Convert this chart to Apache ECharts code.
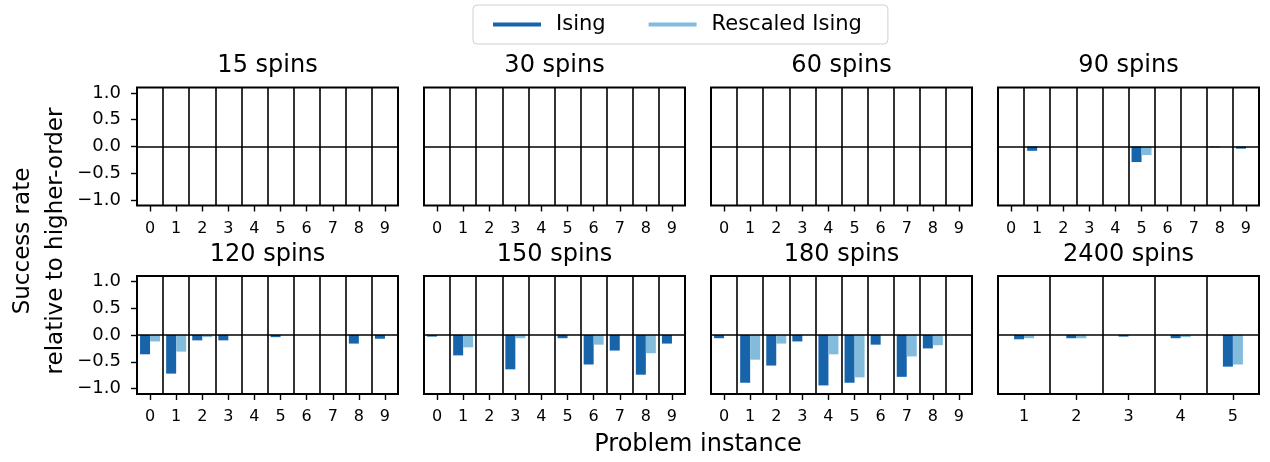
<!DOCTYPE html>
<html>
<head>
<meta charset="utf-8">
<script src="https://cdn.jsdelivr.net/npm/echarts@6/dist/echarts.min.js"></script>
<style>
  html, body { margin: 0; padding: 0; background: #fff; }
  #chart { width: 1270px; height: 462px; }
</style>
</head>
<body>
<div id="chart"></div>
<script>
// ---- data ---------------------------------------------------------------
const panelTitles = ['15 spins', '30 spins', '60 spins', '90 spins',
                     '120 spins', '150 spins', '180 spins', '2400 spins'];
const instances = ['0', '1', '2', '3', '4', '5', '6', '7', '8', '9'];
const instances2400 = ['1', '2', '3', '4', '5'];
const yTicks = [-1, -0.5, 0, 0.5, 1];

const ising15 = [0, 0, 0, 0, 0, 0, 0, 0, 0, 0];
const rescaled15 = [0, 0, 0, 0, 0, 0, 0, 0, 0, 0];
const ising30 = [0, 0, 0, 0, 0, 0, 0, 0, 0, 0];
const rescaled30 = [0, 0, 0, 0, 0, 0, 0, 0, 0, 0];
const ising60 = [0, 0, 0, 0, 0, 0, 0, 0, 0, 0];
const rescaled60 = [0, 0, 0, 0, 0, 0, 0, 0, 0, 0];
const ising90 = [0, -0.08, 0, 0, 0, -0.29, 0, 0, -0.015, -0.04];
const rescaled90 = [0, 0, 0, 0, 0, -0.16, 0, 0, 0, 0];
const ising120 = [-0.36, -0.72, -0.10, -0.10, 0, -0.04, 0, 0, -0.16, -0.07];
const rescaled120 = [-0.12, -0.31, -0.04, 0, 0, 0, 0, 0, 0, 0];
const ising150 = [-0.03, -0.38, 0, -0.64, 0, -0.06, -0.55, -0.29, -0.74, -0.16];
const rescaled150 = [0, -0.23, 0, -0.06, 0, 0, -0.18, 0, -0.34, 0];
const ising180 = [-0.06, -0.89, -0.57, -0.12, -0.94, -0.89, -0.18, -0.78, -0.25, 0];
const rescaled180 = [0, -0.46, -0.16, 0, -0.36, -0.79, 0, -0.40, -0.19, 0];
const ising2400 = [-0.08, -0.06, -0.03, -0.06, -0.59];
const rescaled2400 = [-0.06, -0.06, 0, -0.04, -0.55];

const panelCategories = [instances, instances, instances, instances,
                         instances, instances, instances, instances2400];
const isingSeries = [ising15, ising30, ising60, ising90, ising120, ising150, ising180, ising2400];
const rescaledSeries = [rescaled15, rescaled30, rescaled60, rescaled90,
                        rescaled120, rescaled150, rescaled180, rescaled2400];

// ---- layout & style -----------------------------------------------------
const FONT = 'DejaVu Sans';
const ISING_COLOR = '#1764ab';
const RESCALED_COLOR = '#82bbdb';
const COL_LEFT = [137, 424, 711, 998];
const ROW_TOP = [87.5, 276];
const PANEL_W = 261;
const PANEL_H = 118;
const TITLE_Y = [65.7, 255];

const fmtTick = v => (v < 0 ? '\u2212' : '') + Math.abs(v).toFixed(1);

const grids = [], xAxes = [], yAxes = [], series = [], graphics = [];

panelTitles.forEach((title, i) => {
  const row = Math.floor(i / 4), col = i % 4;
  const left = COL_LEFT[col], top = ROW_TOP[row];
  grids.push({
    left: left, top: top, width: PANEL_W, height: PANEL_H,
    show: true, borderColor: '#000', borderWidth: 2, backgroundColor: '#fff'
  });
  xAxes.push({
    type: 'category', gridIndex: i, data: panelCategories[i],
    axisLine: { show: false, onZero: false },
    axisTick: { show: true, alignWithLabel: true, length: 6,
                lineStyle: { color: '#000', width: 1.4 } },
    splitLine: { show: true, lineStyle: { color: '#000', width: 1.6 } },
    axisLabel: { interval: 0, fontSize: 16, color: '#000', fontFamily: FONT, margin: 15 }
  });
  yAxes.push({
    type: 'value', gridIndex: i, min: -1.1, max: 1.1,
    axisLine: { show: false, onZero: false },
    splitLine: { show: false },
    axisTick: { show: col === 0, customValues: yTicks, length: 6,
                lineStyle: { color: '#000', width: 1.4 } },
    axisLabel: { show: col === 0, customValues: yTicks, formatter: fmtTick,
                 fontSize: 18, color: '#000', fontFamily: FONT, margin: 16 }
  });
  series.push({
    type: 'bar', name: 'Ising', xAxisIndex: i, yAxisIndex: i,
    data: isingSeries[i], barWidth: 10, barGap: '0%',
    itemStyle: { color: ISING_COLOR }, silent: true,
    markLine: {
      silent: true, symbol: 'none', label: { show: false },
      lineStyle: { color: '#000', width: 1.6, type: 'solid' },
      data: [{ yAxis: 0 }]
    }
  });
  series.push({
    type: 'bar', name: 'Rescaled Ising', xAxisIndex: i, yAxisIndex: i,
    data: rescaledSeries[i], barWidth: 10, barGap: '0%',
    itemStyle: { color: RESCALED_COLOR }, silent: true
  });
  graphics.push({
    type: 'text', x: left + PANEL_W / 2, y: TITLE_Y[row],
    style: { text: title, fontSize: 24, fontFamily: FONT, fill: '#000',
             textAlign: 'center', textVerticalAlign: 'middle' }
  });
});

graphics.push({
  type: 'text', x: 40, y: 241, rotation: Math.PI / 2,
  style: { text: 'Success rate\nrelative to higher-order', fontSize: 23, lineHeight: 33,
           fontFamily: FONT, fill: '#000', textAlign: 'center', textVerticalAlign: 'middle' }
});
graphics.push({
  type: 'text', x: (COL_LEFT[0] + COL_LEFT[3] + PANEL_W) / 2, y: 445,
  style: { text: 'Problem instance', fontSize: 24, fontFamily: FONT, fill: '#000',
           textAlign: 'center', textVerticalAlign: 'middle' }
});

const chart = echarts.init(document.getElementById('chart'), null, { renderer: 'canvas' });
chart.setOption({
  animation: false,
  backgroundColor: '#fff',
  textStyle: { fontFamily: FONT },
  legend: {
    data: ['Ising', 'Rescaled Ising'],
    left: 473, top: 5,
    padding: [9, 26, 9, 20],
    itemGap: 43, itemWidth: 48, itemHeight: 4, icon: 'rect',
    selectedMode: false,
    borderColor: '#d0d0d0', borderWidth: 1, borderRadius: 4,
    textStyle: { fontSize: 21, color: '#000', fontFamily: FONT, padding: [0, 0, 0, 10] }
  },
  grid: grids,
  xAxis: xAxes,
  yAxis: yAxes,
  series: series,
  graphic: graphics
});
</script>
</body>
</html>
